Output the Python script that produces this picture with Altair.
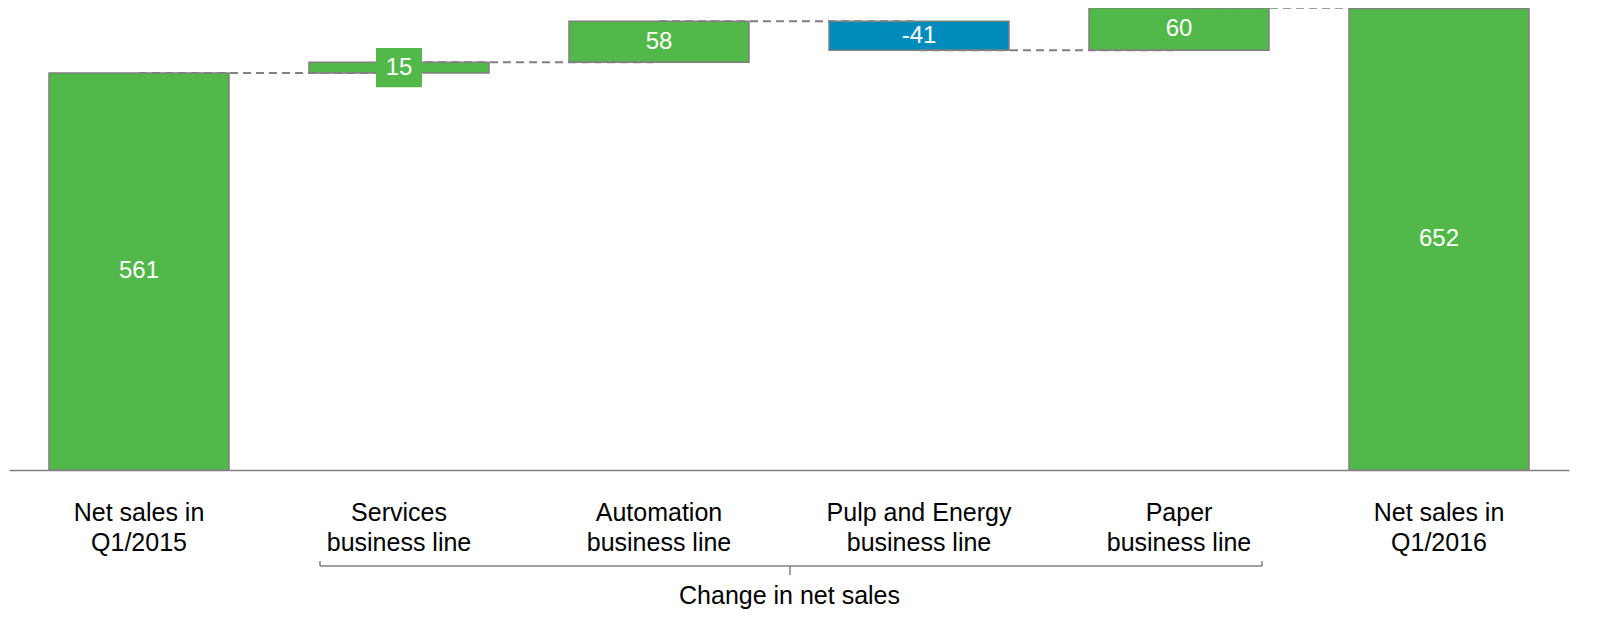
import altair as alt
import pandas as pd

categories = ["Net sales in|Q1/2015", "Services|business line", "Automation|business line",
              "Pulp and Energy|business line", "Paper|business line", "Net sales in|Q1/2016"]
values = [561, 15, 58, -41, 60, 652]
kinds = ["total", "delta", "delta", "delta", "delta", "total"]
group_title = "Change in net sales"

GREEN = "#52B84A"
BLUE = "#008BBD"
GRAY = "#808080"
FONT = "Liberation Sans"

rows = []
run = 0
for c, v, k in zip(categories, values, kinds):
    if k == "total":
        s, e = 0, v
    else:
        s, e = run, run + v
    run = e
    rows.append(dict(cat=c, start=s, end=e, mid=(s + e) / 2, label=str(v),
                     sign="neg" if v < 0 else "pos", small=abs(v) < 30))
df = pd.DataFrame(rows)

conn = pd.DataFrame([dict(cat=categories[i], nxt=categories[i + 1], level=rows[i]["end"])
                     for i in range(len(categories) - 1)])

xscale = alt.Scale(domain=categories, paddingInner=0.3077, paddingOuter=0.1538)
yscale = alt.Scale(domain=[0, 652.8], nice=False, zero=True)

xaxis = alt.Axis(title=group_title, labelExpr="split(datum.label, '|')", labelAngle=0,
                 labelFont=FONT, labelFontSize=25, labelLineHeight=30, labelColor="black",
                 labelPadding=30, labelLimit=0, ticks=False, domainColor=GRAY, domainWidth=1.5,
                 titleFont=FONT, titleFontSize=25, titleFontWeight="normal", titleColor="black",
                 titleY=133, titleBaseline="alphabetic", grid=False)

base = alt.Chart(df)
bars = base.mark_bar(stroke=GRAY, strokeWidth=1.5).encode(
    x=alt.X("cat:N", scale=xscale, axis=xaxis, sort=categories),
    y=alt.Y("start:Q", scale=yscale, axis=None),
    y2="end:Q",
    color=alt.Color("sign:N", scale=alt.Scale(domain=["pos", "neg"], range=[GREEN, BLUE]), legend=None),
)

connectors = alt.Chart(conn).mark_rule(color=GRAY, strokeWidth=2, strokeDash=[8, 5]).encode(
    x=alt.X("cat:N", scale=xscale, sort=categories),
    x2="nxt:N",
    y=alt.Y("level:Q", scale=yscale),
)

box = base.transform_filter("datum.small").mark_point(
    shape="M-1,-0.85L1,-0.85L1,0.85L-1,0.85Z", filled=True, opacity=1, size=2116, color=GREEN
).encode(
    x=alt.X("cat:N", scale=xscale, sort=categories),
    y=alt.Y("mid:Q", scale=yscale),
)

labels = base.mark_text(color="white", font=FONT, fontSize=24, baseline="middle").encode(
    x=alt.X("cat:N", scale=xscale, sort=categories),
    y=alt.Y("mid:Q", scale=yscale),
    text="label:N",
)

one = pd.DataFrame({"a": [0]})
brace_h = alt.Chart(one).mark_rule(color=GRAY, strokeWidth=1.5).encode(
    x=alt.value(311), x2=alt.value(1253), y=alt.value(558))
brace_l = alt.Chart(one).mark_rule(color=GRAY, strokeWidth=1.5).encode(
    x=alt.value(311), y=alt.value(553), y2=alt.value(558))
brace_r = alt.Chart(one).mark_rule(color=GRAY, strokeWidth=1.5).encode(
    x=alt.value(1253), y=alt.value(553), y2=alt.value(558))
brace_c = alt.Chart(one).mark_rule(color=GRAY, strokeWidth=1.5).encode(
    x=alt.value(781), y=alt.value(558), y2=alt.value(567))

chart = alt.layer(bars, connectors, box, labels, brace_h, brace_l, brace_r, brace_c).properties(
    width=1560, height=462,
    autosize=alt.AutoSizeParams(type="none"),
    padding={"left": 1, "top": 0, "right": 10, "bottom": 142},
).configure(background="white", view=alt.ViewConfig(stroke=None))

chart.save("out.html", embed_options={"renderer": "svg", "actions": False})
